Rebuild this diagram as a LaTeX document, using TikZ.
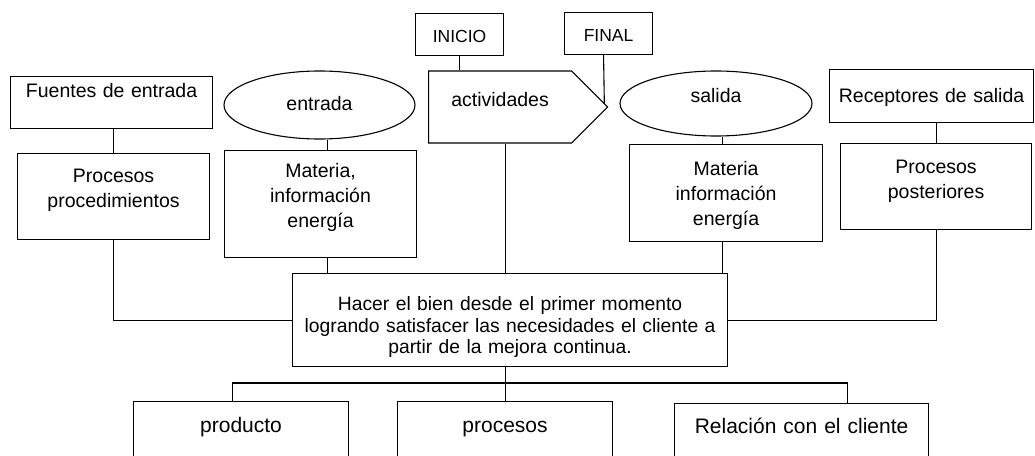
\documentclass[tikz,border=0pt]{standalone}
\usepackage{fontspec}
\setmainfont{Liberation Sans}
\usetikzlibrary{calc,shapes.geometric,shapes.symbols}
\tikzset{
myBox/.style={
	rectangle, draw, line width=1.1pt,
	inner sep=0pt, anchor=north west, align=center,
	font=\fontsize{19.5}{25}\selectfont
}
, myOval/.style={
	ellipse, draw, line width=1.1pt,
	inner sep=0pt, text height=14pt, text depth=4pt,
	font=\fontsize{19.5}{25}\selectfont
}
, myTag/.style={
	signal, signal to=east, signal pointer angle=90,
	draw, line width=1.1pt, inner sep=0pt,
	font=\fontsize{19.5}{25}\selectfont
}
% link
, myLink/.style={line width=1.1pt}
}

\begin{document}
\begin{tikzpicture}[x=1pt,y=-1pt]
	\useasboundingbox (0,0) rectangle (1035,455);
	\clip (0,0) rectangle (1035,455);
	% top row
	\node[myBox, text width=202pt, text height=21pt, text depth=31pt] (Fuentes) at (10,76) {Fuentes de entrada};
	\node[myOval, minimum width=191, minimum height=68] (Entrada) at (319.5,105) {entrada};
	\node[myBox, text width=88pt, text height=29pt, text depth=13pt, font=\fontsize{17.5}{21}\selectfont] (Inicio) at (415,13) {INICIO};
	\node[myBox, text width=88pt, text height=29pt, text depth=13pt, font=\fontsize{17.5}{21}\selectfont] (Final) at (564,12) {FINAL};
	\node[myTag, minimum width=179, minimum height=72, text height=14pt, text depth=16pt, anchor=west] (Act) at (428,107) {actividades};
	\node[myOval, minimum width=192, minimum height=65, text depth=17pt] (Salida) at (716,103.5) {salida};
	\node[myBox, text width=204pt, text height=33pt, text depth=20pt] (Recep) at (829,69) {Receptores de salida};
	% second row
	\node[myBox, text width=192pt, text height=29pt, text depth=57pt] (ProcPrev) at (17,153) {Procesos\\procedimientos};
	\node[myBox, text width=192pt, text height=27pt, text depth=80pt] (MatIn) at (224,150) {Materia,\\información\\energía};
	\node[myBox, text width=193pt, text height=31pt, text depth=66pt] (MatOut) at (629,144) {Materia\\información\\energía};
	\node[myBox, text width=191pt, text height=30pt, text depth=56pt] (ProcPost) at (840,143) {Procesos\\posteriores};
	% center
	\node[myBox, text width=435pt, text height=37pt, text depth=56pt, font=\fontsize{19.3}{21.7}\selectfont] (Meta) at (292,273)
		{Hacer el bien desde el primer momento\\logrando satisfacer las necesidades el cliente a\\partir de la mejora continua.};
	% bottom row
	\node[myBox, text width=215pt, text height=31pt, text depth=60pt, font=\fontsize{21}{25}\selectfont] (Prod) at (133,401) {producto};
	\node[myBox, text width=215pt, text height=31pt, text depth=60pt, font=\fontsize{21}{25}\selectfont] (Procs) at (397,401) {procesos};
	\node[myBox, text width=254pt, text height=30pt, text depth=60pt, font=\fontsize{21}{25}\selectfont] (Rel) at (674,403) {Relación con el cliente};
	\coordinate (Bus) at (0,383);
	\coordinate (FinalEnd) at ($(Act.east)+(-4,-3)$);

	% links
	\draw[myLink] (ProcPrev.north |- Fuentes.south) -- (ProcPrev.north);
	\draw[myLink] ([xshift=7]MatIn.north |- Entrada.south) -- ([xshift=7]MatIn.north);
	\draw[myLink] (Inicio.south) -- (Inicio.south |- Act.north);
	\draw[myLink] ([xshift=-5]Final.south) -- (FinalEnd);
	\draw[myLink] ([xshift=-4]MatOut.north |- Salida.south) -- ([xshift=-4]MatOut.north);
	\draw[myLink] (ProcPost.north |- Recep.south) -- (ProcPost.north);

	\draw[myLink] (ProcPrev.south) |- (Meta.west);
	\draw[myLink] ([xshift=7]MatIn.south) -- ([xshift=7]MatIn.south |- Meta.north);
	\draw[myLink] (Procs.north |- Act.south) -- (Procs.north |- Meta.north);
	\draw[myLink] ([xshift=-4]MatOut.south) -- ([xshift=-4]MatOut.south |- Meta.north);
	\draw[myLink] (ProcPost.south) |- (Meta.east);

	\draw[myLink] (Procs.north |- Meta.south) -- (Procs.north);
	\draw[myLink] ([xshift=-9]Prod.north) -- ([xshift=-9]Prod.north |- Bus)
		-- ([xshift=46]Rel.north |- Bus) -- ([xshift=46]Rel.north);
\end{tikzpicture}
\end{document}
